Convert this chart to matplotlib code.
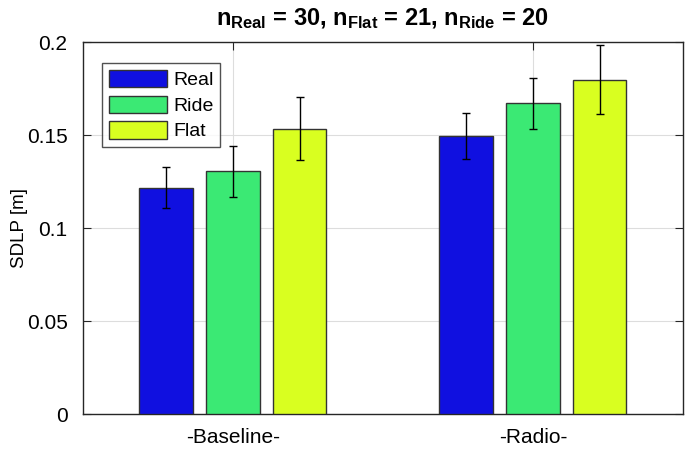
import matplotlib.pyplot as plt
import numpy as np

plt.rcParams['font.family'] = ['Liberation Sans', 'DejaVu Sans']
plt.rcParams['mathtext.fontset'] = 'custom'
plt.rcParams['mathtext.rm'] = 'Liberation Sans'
plt.rcParams['mathtext.bf'] = 'Liberation Sans:bold'

conditions = ['-Baseline-', '-Radio-']
series = ['Real', 'Ride', 'Flat']
means = {
    'Real': [0.1217, 0.1495],
    'Ride': [0.1306, 0.1671],
    'Flat': [0.1535, 0.1797],
}
errors = {
    'Real': [0.0111, 0.0126],
    'Ride': [0.0138, 0.0136],
    'Flat': [0.0170, 0.0186],
}
colors = {'Real': '#1010E0', 'Ride': '#3BE974', 'Flat': '#D9FF20'}

fig = plt.figure(figsize=(6.85, 4.53), dpi=100)
ax = fig.add_axes([0.121, 0.086, 0.876, 0.821])

x = np.arange(1, len(conditions) + 1)
width = 0.179
offset = 0.222
for i, s in enumerate(series):
    pos = x + (i - 1) * offset
    ax.bar(pos, means[s], width, color=colors[s], edgecolor='#333333',
           linewidth=1.0, label=s, zorder=3)
    ax.errorbar(pos, means[s], yerr=errors[s], fmt='none', ecolor='black',
                elinewidth=1.0, capsize=3, capthick=1.0, zorder=4)

ax.set_xlim(0.5, 2.5)
ax.set_ylim(0, 0.2)
ax.set_xticks(x)
ax.set_xticklabels(conditions)
ax.set_yticks([0, 0.05, 0.1, 0.15, 0.2])
ax.set_yticklabels(['0', '0.05', '0.1', '0.15', '0.2'])
ax.tick_params(direction='in', labelsize=15, length=6, top=True, right=True,
               color='#262626')
ax.tick_params(axis='y', pad=11)
ax.tick_params(axis='x', pad=10)
ax.grid(True, color='#dddddd', linewidth=0.8, zorder=0)
for sp in ax.spines.values():
    sp.set_color('#262626')
    sp.set_linewidth(1.0)
ax.set_ylabel('SDLP [m]', fontsize=13.5)
ax.yaxis.set_label_coords(-0.092, 0.5)
ax.set_title(r'$\mathbf{n_{Real}}$ = 30, $\mathbf{n_{Flat}}$ = 21, $\mathbf{n_{Ride}}$ = 20',
             fontsize=17, fontweight='bold', pad=12)
leg = ax.legend(loc='upper left', bbox_to_anchor=(0.032, 0.9435), fontsize=14,
                fancybox=False, edgecolor='#262626', handlelength=3.0,
                handleheight=1.0, borderpad=0.35, labelspacing=0.32,
                handletextpad=0.3, borderaxespad=0)
leg.get_frame().set_linewidth(1.0)

fig.savefig('out.png', dpi=100)
